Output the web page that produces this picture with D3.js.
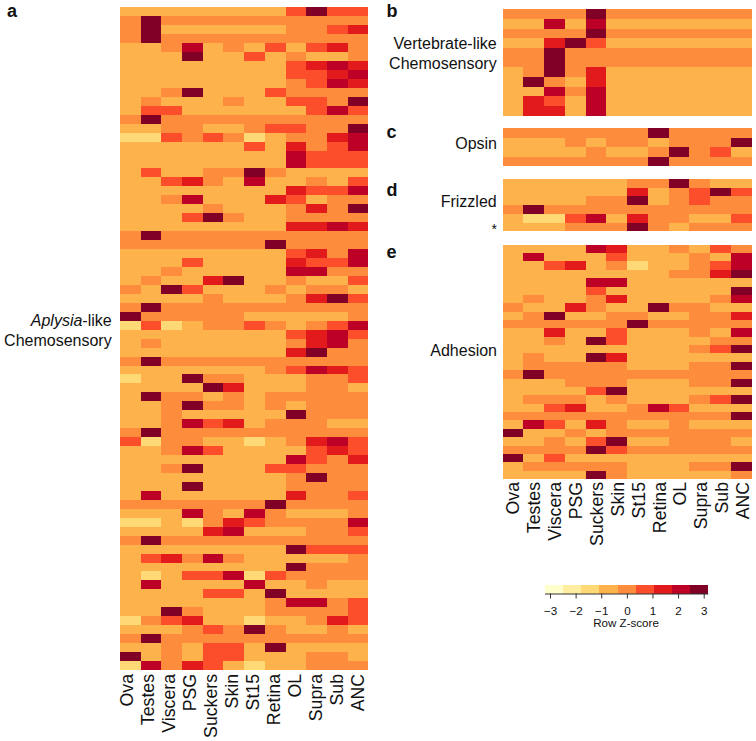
<!DOCTYPE html>
<html>
<head>
<meta charset="utf-8">
<style>
html,body{margin:0;padding:0;background:#fff;}
svg{display:block;}
text{font-family:"Liberation Sans",Arial,sans-serif;fill:#111;}
</style>
<script src="https://cdn.jsdelivr.net/npm/d3@7"></script>
</head>
<body>
<svg id="c" width="756" height="741"></svg>
<script>
const samples = ["Ova","Testes","Viscera","PSG","Suckers","Skin","St15","Retina","OL","Supra","Sub","ANC"];
const keyColors = ["#FFFFCC","#FFEDA0","#FED976","#FEB24C","#FD8D3C","#FC4E2A","#E31A1C","#BD0026","#800026"];
const keyTicks = [-3,-2,-1,0,1,2,3];
// z-score bin centres; each digit in the rows below is the bin
const binCenters = [-2.84,-2.13,-1.42,-0.71,0,0.71,1.42,2.13,2.84];

const aplysiaRows = [
"333333335855","484444444444","483333334456","484444444444","334734353564","333833534334",
"333333335676","333333335567","333333334576","334833354444","343334335548","355333333575",
"484444444444","334433455448","225454234467","333333536457","333333337555","333333337555",
"353344843333","335643733435","333333336557","334733365344","333343334648","333584334444",
"333333336676","484444444444","444444484444","333333335647","333533336557","334333337744",
"343368334335","438533343443","333343334685","484444444444","844444333334","252344543457",
"333333335675","343333334674","333333336844","484444444444","333333345765","233844333445",
"333386333443","384434344444","334844343444","334333338444","334756344433","484444444444",
"524433234675","334753333565","333333337546","334833355444","333333334844","333833334444",
"373333336445","444444484444","333743743334","223246544447","333367333445","484444444444",
"333333338555","356474333334","333333338444","323557254444","373333733433","333355383333",
"333333347745","338433344445","245633233465","333454843343","484444444444","334355383333",
"834355333443","274653233444"];
const vertebrateRows = [
"444484444444","337373333333","444484444444","336853333333","448444444444","448444444444",
"348463333333","384363333333","337473333333","365373333333","366373333333"];
const opsinRows = ["444444484444","333434434448","333343348453","444444484444"];
const frizzledRows = ["333333448433","333333634585","333344834544","484444444444","322573644335","333444843444"];
const adhesionRows = [
"333376334354","373335333437","335634233457","333333334468","333377333333","333353333338",
"343346333347","433643384433","348334433446","444444844444","336335333437","334385333344",
"333333333458","343386333333","344444333448","484444444444","333444333448","333358333333",
"344434333458","335633475333","444444444448","375364334333","833434444444","334358334443",
"444485444444","835333333333","344444333448","333384333334"];

const svg = d3.select("#c");
const color = d3.scaleQuantize().domain([-3.2,3.2]).range(keyColors);

function heatmap(rows, x0, x1, y0, y1){
  const x = d3.scaleBand().domain(samples).range([x0,x1]);
  const y = d3.scaleBand().domain(d3.range(rows.length)).range([y0,y1]);
  const cells = rows.flatMap((r,i)=>samples.map((s,j)=>({s,i,z:binCenters[+r[j]]})));
  svg.append("g").selectAll("rect").data(cells).join("rect")
    .attr("x",d=>x(d.s)).attr("y",d=>y(d.i))
    .attr("width",x.bandwidth()).attr("height",y.bandwidth())
    .attr("fill",d=>color(d.z)).attr("shape-rendering","crispEdges");
}
function colLabels(x0, x1, yTop){
  const x = d3.scalePoint().domain(samples).range([x0,x1]);
  svg.append("g").selectAll("text").data(samples).join("text")
    .attr("transform",d=>`translate(${x(d)},${yTop}) rotate(-90)`)
    .attr("text-anchor","end").attr("font-size",17.7).text(d=>d);
}
function label(txt, x, y, opts={}){
  const t = svg.append("text").attr("x",x).attr("y",y)
    .attr("text-anchor",opts.anchor||"end")
    .attr("font-size",opts.size||16)
    .attr("font-weight",opts.weight||"normal");
  if(opts.parts){ opts.parts.forEach(p=>t.append("tspan").attr("font-style",p[1]||"normal").text(p[0])); }
  else t.text(txt);
}

heatmap(aplysiaRows,120,368.3,7.3,670);
heatmap(vertebrateRows,502.7,751.7,9.3,115.7);
heatmap(opsinRows,502.7,751.7,128.3,166);
heatmap(frizzledRows,502.7,751.7,179,231.3);
heatmap(adhesionRows,502.7,751.7,244.7,479);

colLabels(133.3,364,674);
colLabels(519,749.3,482);

const letter = {size:18,weight:"bold",anchor:"start"};
label("a",7,16.7,letter);
label("b",386.5,16.7,letter);
label("c",386.5,138,letter);
label("d",386.5,195.7,letter);
label("e",386.5,257.7,letter);

label("",111.7,325.7,{parts:[["Aplysia","italic"],["-like"]]});
label("Chemosensory",111.7,346);
label("Vertebrate-like",496.7,48.7);
label("Chemosensory",496.7,69.3);
label("Opsin",497,149);
label("Frizzled",496.7,207.3);
label("*",497,234,{size:14});
label("Adhesion",497,355.7);

// colour key
const keyX = d3.scaleLinear().domain([-3,3]).range([550,703.7]);
const keyBins = d3.range(keyColors.length);
const keyBand = d3.scaleBand().domain(keyBins).range([545,708.3]);
svg.append("g").selectAll("rect").data(keyBins).join("rect")
  .attr("x",d=>keyBand(d)).attr("y",585).attr("width",keyBand.bandwidth()).attr("height",8.5)
  .attr("fill",d=>keyColors[d]).attr("shape-rendering","crispEdges");
const keyAxis = svg.append("g").attr("transform","translate(0,593.5)")
  .call(d3.axisBottom(keyX).tickValues(keyTicks).tickFormat(d3.format("d")).tickSize(5).tickSizeOuter(0).tickPadding(8));
keyAxis.select(".domain").attr("stroke","#333").attr("d","M545,0.5H708.3");
keyAxis.selectAll(".tick line").attr("stroke","#333");
keyAxis.selectAll("text").attr("font-size",11.6).attr("font-family",'"Liberation Sans",Arial,sans-serif');
label("Row Z-score",626,627.3,{size:11.6,anchor:"middle"});
</script>
</body>
</html>
